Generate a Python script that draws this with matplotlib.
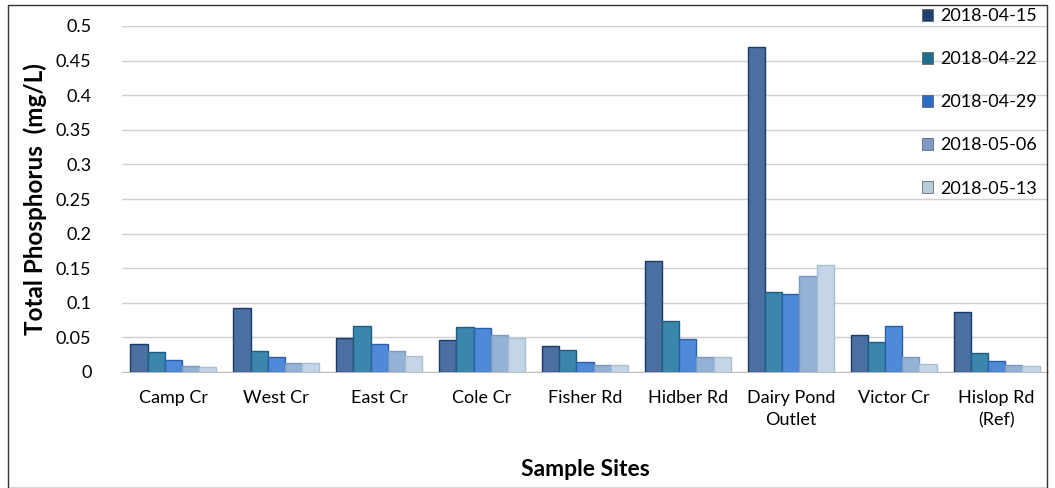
import matplotlib
matplotlib.use("Agg")
import matplotlib.pyplot as plt
import numpy as np
from matplotlib.patches import Patch, Rectangle

plt.rcParams["font.family"] = ["Lato", "DejaVu Sans"]

sites = ["Camp Cr", "West Cr", "East Cr", "Cole Cr", "Fisher Rd",
         "Hidber Rd", "Dairy Pond\nOutlet", "Victor Cr", "Hislop Rd\n(Ref)"]
dates = ["2018-04-15", "2018-04-22", "2018-04-29", "2018-05-06", "2018-05-13"]

tp_0415 = [0.040, 0.092, 0.049, 0.046, 0.038, 0.160, 0.469, 0.054, 0.086]
tp_0422 = [0.029, 0.030, 0.067, 0.065, 0.032, 0.073, 0.116, 0.044, 0.027]
tp_0429 = [0.018, 0.021, 0.041, 0.064, 0.015, 0.048, 0.113, 0.067, 0.016]
tp_0506 = [0.008, 0.013, 0.030, 0.054, 0.010, 0.021, 0.139, 0.021, 0.010]
tp_0513 = [0.007, 0.013, 0.023, 0.049, 0.010, 0.021, 0.154, 0.011, 0.008]
series = [tp_0415, tp_0422, tp_0429, tp_0506, tp_0513]

fills = ["#4a6fa0", "#3a86ad", "#4f8ad8", "#94b1d6", "#c3d5e6"]
edges = ["#1d3a66", "#1e5f80", "#2a5faa", "#7a98c0", "#aabfd3"]
legend_cols = ["#1f3f6e", "#1f6e8e", "#2d6cc4", "#7d9ac2", "#b8cbdd"]

fig = plt.figure(figsize=(10.55, 4.88), dpi=100)
ax = fig.add_axes([122 / 1055, 116 / 488, (1048 - 122) / 1055, (372 - 26) / 488])

x = np.arange(len(sites))
bw = 0.167
for i, (vals, fc, ec) in enumerate(zip(series, fills, edges)):
    ax.bar(x + (i - 2) * bw, vals, width=bw, color=fc, edgecolor=ec, linewidth=1.0, zorder=3)

ax.set_xlim(-0.5, len(sites) - 0.5)
ax.set_ylim(0, 0.5)
ax.set_yticks(np.arange(0, 0.501, 0.05))
ax.set_yticklabels(["0", "0.05", "0.1", "0.15", "0.2", "0.25", "0.3", "0.35", "0.4", "0.45", "0.5"])
ax.yaxis.grid(True, color="#d0d0d0", linewidth=1.0, zorder=0)
ax.set_axisbelow(True)
for s in ["top", "right", "left"]:
    ax.spines[s].set_visible(False)
ax.spines["bottom"].set_color("#bfbfbf")
ax.tick_params(axis="y", length=0, labelsize=13, pad=22)
ax.tick_params(axis="x", length=0, labelsize=13, pad=13)
ax.set_xticks(x)
ax.set_xticklabels(sites, linespacing=1.45)

ax.set_ylabel("Total Phosphorus  (mg/L)", fontsize=17.5, fontweight="bold", labelpad=6)
ax.set_xlabel("Sample Sites", fontsize=16.5, fontweight="bold", labelpad=22)

handles = [Patch(facecolor=c, edgecolor="#555555", linewidth=0.5) for c in legend_cols]
fig.legend(handles, dates, loc="upper left", bbox_to_anchor=(906 / 1055, 1 + 8 / 488),
           frameon=False, fontsize=13, labelspacing=1.5,
           handlelength=0.6, handleheight=0.6, handletextpad=0.4)

fig.patches.append(Rectangle((8 / 1055, 0), 1039 / 1055, 483 / 488, transform=fig.transFigure,
                             fill=False, edgecolor="#333333", linewidth=1.0))

fig.savefig("out.png", dpi=100)
